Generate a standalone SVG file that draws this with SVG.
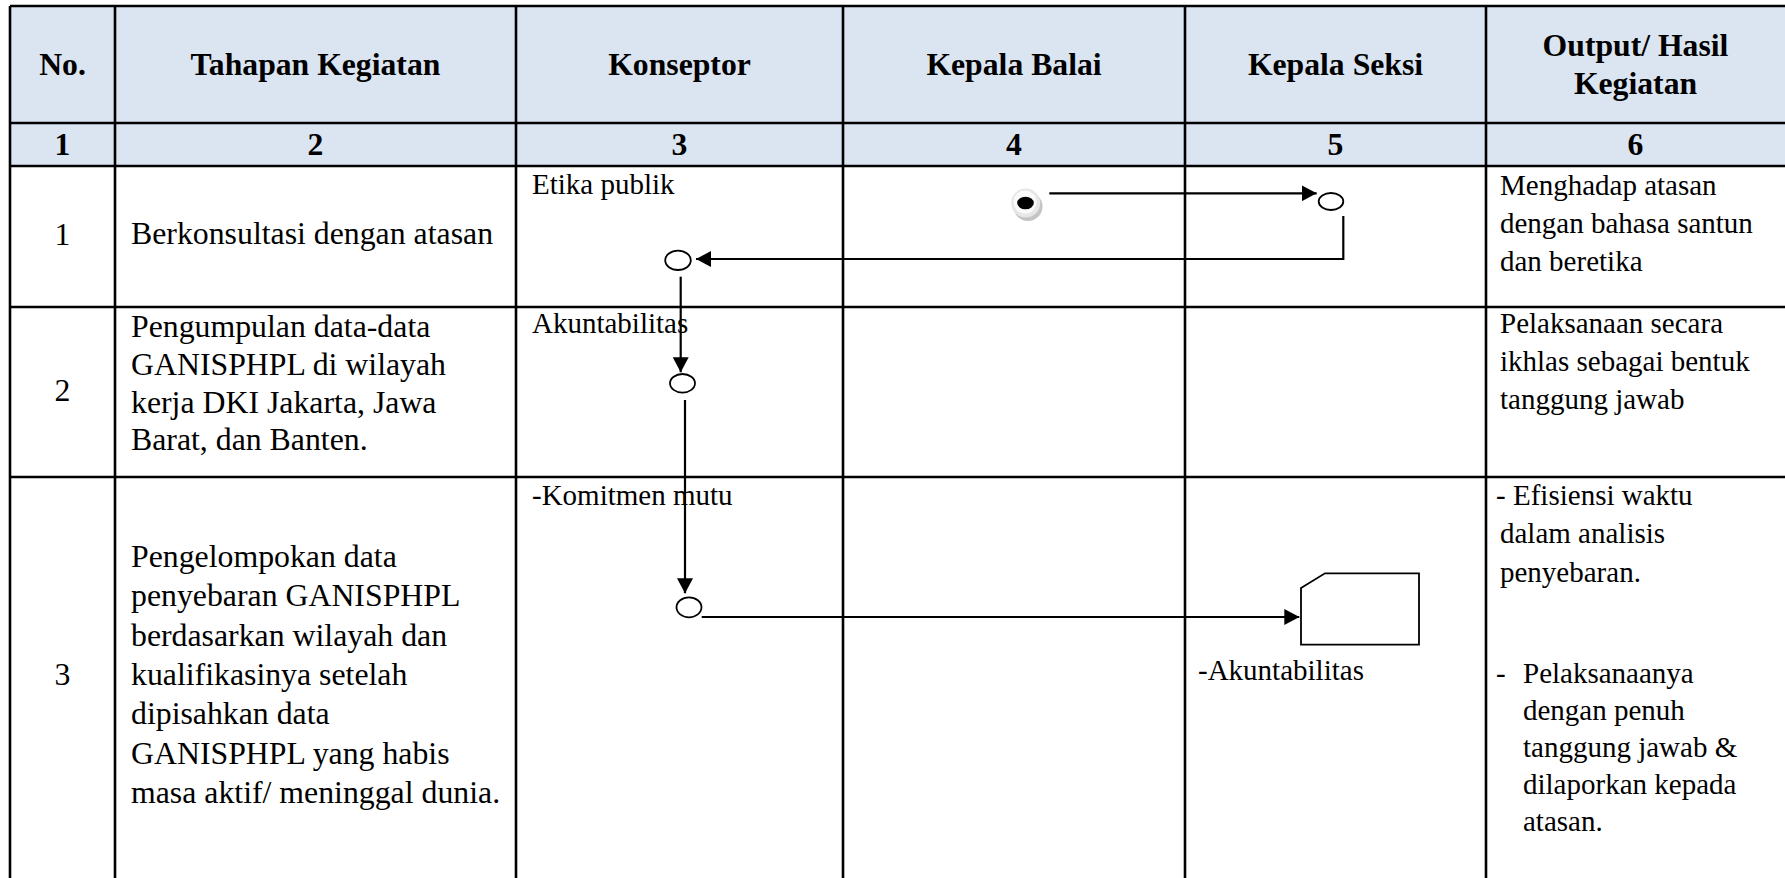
<svg xmlns="http://www.w3.org/2000/svg" width="1785" height="878" viewBox="0 0 1785 878">
<defs>
<style>
.hdr{font-family:"Liberation Serif","Times New Roman",serif;font-weight:bold;font-size:31.7px;text-anchor:middle;fill:#000}
.t12{font-family:"Liberation Serif","Times New Roman",serif;font-size:31.8px;fill:#000}
.t11{font-family:"Liberation Serif","Times New Roman",serif;font-size:29px;fill:#000}
.num{text-anchor:middle}
.grid{stroke:#000;stroke-width:2.6;fill:none}
.conn{stroke:#000;stroke-width:2.2;fill:none}
.node{fill:#fff;stroke:#000;stroke-width:1.8}
</style>
<marker id="arr" viewBox="0 0 15 16" refX="15" refY="8" markerWidth="15" markerHeight="16" markerUnits="userSpaceOnUse" orient="auto">
<path d="M0,0 L15,8 L0,16 Z" fill="#000"/>
</marker>
</defs>
<rect width="1785" height="878" fill="#fff"/>
<g id="table">
<rect x="10" y="6" width="1780" height="160" fill="#dbe5f1"/>
<path class="grid" d="M10 6H1785M10 123H1785M10 166H1785M10 307H1785M10 477H1785M10 6V878M115 6V878M516 6V878M843 6V878M1185 6V878M1486 6V878"/>
<text class="hdr" x="62.5" y="75">No.</text>
<text class="hdr" x="315.5" y="75">Tahapan Kegiatan</text>
<text class="hdr" x="679.5" y="75">Konseptor</text>
<text class="hdr" x="1014" y="75">Kepala Balai</text>
<text class="hdr" x="1335.5" y="75">Kepala Seksi</text>
<text class="hdr" x="1635.5" y="56">Output/ Hasil</text>
<text class="hdr" x="1635.5" y="94">Kegiatan</text>
<text class="hdr" x="62.5" y="155">1</text>
<text class="hdr" x="315.5" y="155">2</text>
<text class="hdr" x="679.5" y="155">3</text>
<text class="hdr" x="1014" y="155">4</text>
<text class="hdr" x="1335.5" y="155">5</text>
<text class="hdr" x="1635.5" y="155">6</text>
</g>
<g id="row1">
<text class="t12 num" x="62.5" y="245">1</text>
<text class="t12" x="131" y="244">Berkonsultasi dengan atasan</text>
<text class="t11" x="532" y="194">Etika publik</text>
<text class="t11" x="1500" y="195">Menghadap atasan</text>
<text class="t11" x="1500" y="233">dengan bahasa santun</text>
<text class="t11" x="1500" y="271">dan beretika</text>
</g>
<g id="row2">
<text class="t12 num" x="62.5" y="401">2</text>
<text class="t12" x="131" y="337">Pengumpulan data-data</text>
<text class="t12" x="131" y="375">GANISPHPL di wilayah</text>
<text class="t12" x="131" y="413">kerja DKI Jakarta, Jawa</text>
<text class="t12" x="131" y="450">Barat, dan Banten.</text>
<text class="t11" x="532" y="333">Akuntabilitas</text>
<text class="t11" x="1500" y="333">Pelaksanaan secara</text>
<text class="t11" x="1500" y="371">ikhlas sebagai bentuk</text>
<text class="t11" x="1500" y="409">tanggung jawab</text>
</g>
<g id="row3">
<text class="t12 num" x="62.5" y="685">3</text>
<text class="t12" x="131" y="567">Pengelompokan data</text>
<text class="t12" x="131" y="606">penyebaran GANISPHPL</text>
<text class="t12" x="131" y="646">berdasarkan wilayah dan</text>
<text class="t12" x="131" y="685">kualifikasinya setelah</text>
<text class="t12" x="131" y="724">dipisahkan data</text>
<text class="t12" x="131" y="764">GANISPHPL yang habis</text>
<text class="t12" x="131" y="803">masa aktif/ meninggal dunia.</text>
<text class="t11" x="532" y="505">-Komitmen mutu</text>
<text class="t11" x="1198" y="680">-Akuntabilitas</text>
<text class="t11" x="1496" y="505">-</text>
<text class="t11" x="1513" y="505">Efisiensi waktu</text>
<text class="t11" x="1500" y="543">dalam analisis</text>
<text class="t11" x="1500" y="582">penyebaran.</text>
<text class="t11" x="1496" y="683">-</text>
<text class="t11" x="1523" y="683">Pelaksanaanya</text>
<text class="t11" x="1523" y="720">dengan penuh</text>
<text class="t11" x="1523" y="757">tanggung jawab &amp;</text>
<text class="t11" x="1523" y="794">dilaporkan kepada</text>
<text class="t11" x="1523" y="831">atasan.</text>
</g>
<g id="start">
<circle cx="1028" cy="206.5" r="14.5" fill="#c4c4c4"/>
<circle cx="1025.7" cy="203" r="14.5" fill="#e6e6e6"/>
<circle cx="1025" cy="202" r="11.5" fill="#fafafa"/>
<ellipse cx="1025.5" cy="203" rx="8.3" ry="6.3" fill="#000"/>
</g>
<g id="n-seksi1"><ellipse class="node" cx="1331" cy="201.5" rx="12.3" ry="8.5"/></g>
<g id="n-konseptor1"><ellipse class="node" cx="678" cy="260.3" rx="12.8" ry="9.7"/></g>
<g id="n-konseptor2"><ellipse class="node" cx="682.5" cy="383.3" rx="12.5" ry="9.3"/></g>
<g id="n-konseptor3"><ellipse class="node" cx="689" cy="607.3" rx="12.5" ry="10"/></g>
<g id="n-output"><path class="node" stroke-width="2" d="M1301 588 L1325 573.3 H1419 V644.7 H1301 Z"/></g>
<g id="connectors">
<path class="conn" d="M1049.3 193.3 H1316.7" marker-end="url(#arr)"/>
<path class="conn" d="M1343.3 216 V259 H696" marker-end="url(#arr)"/>
<path class="conn" d="M680.7 276.7 V372.3" marker-end="url(#arr)"/>
<path class="conn" d="M685 400 V593.3" marker-end="url(#arr)"/>
<path class="conn" d="M701.7 617 H1299.3" marker-end="url(#arr)"/>
</g>
</svg>
